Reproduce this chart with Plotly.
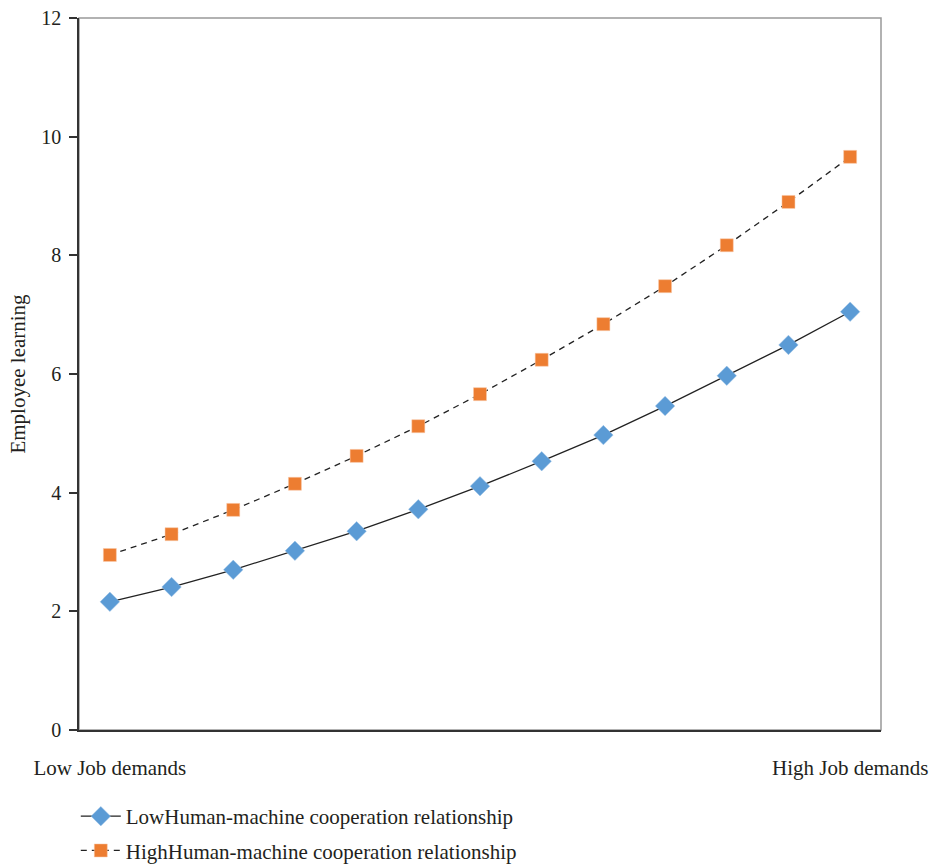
import plotly.graph_objects as go

x_idx = list(range(13))
low_hmc = [2.16, 2.41, 2.70, 3.02, 3.35, 3.72, 4.11, 4.53, 4.97, 5.46, 5.97, 6.49, 7.05]
high_hmc = [2.95, 3.30, 3.71, 4.15, 4.62, 5.12, 5.66, 6.24, 6.84, 7.48, 8.17, 8.90, 9.66]
x_tick_vals = [0, 12]
x_tick_text = ["Low Job demands", "High Job demands"]
y_ticks = [0, 2, 4, 6, 8, 10, 12]

font_family = "Liberation Serif"

fig = go.Figure()
fig.add_trace(go.Scatter(
    x=x_idx, y=low_hmc, mode="lines+markers",
    name="LowHuman-machine cooperation relationship",
    legendgroup="a",
    line=dict(color="#222222", width=1.3),
    marker=dict(symbol="diamond", size=15, color="#5B9BD5",
                line=dict(color="#9CC3E6", width=0.5)),
))
fig.add_trace(go.Scatter(
    x=x_idx, y=high_hmc, mode="lines+markers",
    name="HighHuman-machine cooperation relationship",
    legendgroup="b",
    line=dict(color="#222222", width=1.3, dash="6px,5px"),
    marker=dict(symbol="square", size=13, color="#ED7D31",
                line=dict(color="#F8CBAD", width=0.5)),
))

fig.add_shape(type="rect", xref="paper", yref="paper", x0=0, y0=0, x1=1, y1=1,
              line=dict(color="#999999", width=1.5), layer="below")

fig.update_layout(
    width=931, height=866,
    margin=dict(l=79, r=50, t=18, b=136, autoexpand=False),
    paper_bgcolor="white", plot_bgcolor="white",
    font=dict(family=font_family, size=21, color="#231f20"),
    showlegend=True,
    legend=dict(x=-0.004, y=-0.0927, xanchor="left", yanchor="top",
                font=dict(size=21, family=font_family),
                tracegroupgap=4, itemwidth=40),
    xaxis=dict(range=[-0.5, 12.5], tickvals=x_tick_vals, ticktext=x_tick_text,
               showgrid=False, zeroline=False, showline=True, linecolor="#333333",
               linewidth=1.5, ticks="", ticklabelstandoff=18, automargin=False,
               ticklabeloverflow="allow", tickfont=dict(size=21)),
    yaxis=dict(range=[0, 12], tickvals=y_ticks, showgrid=False, zeroline=False,
               showline=True, linecolor="#333333", linewidth=1.5,
               ticks="outside", ticklen=8, tickcolor="#333333", tickwidth=1.5,
               ticklabelstandoff=4, ticklabeloverflow="allow",
               automargin=False, tickfont=dict(size=20),
               title=dict(text="Employee learning", font=dict(size=21), standoff=10)),
)

fig.write_html("out.html", config={"displayModeBar": False},
               post_script="document.body.style.margin='0';document.body.style.overflow='hidden';")
